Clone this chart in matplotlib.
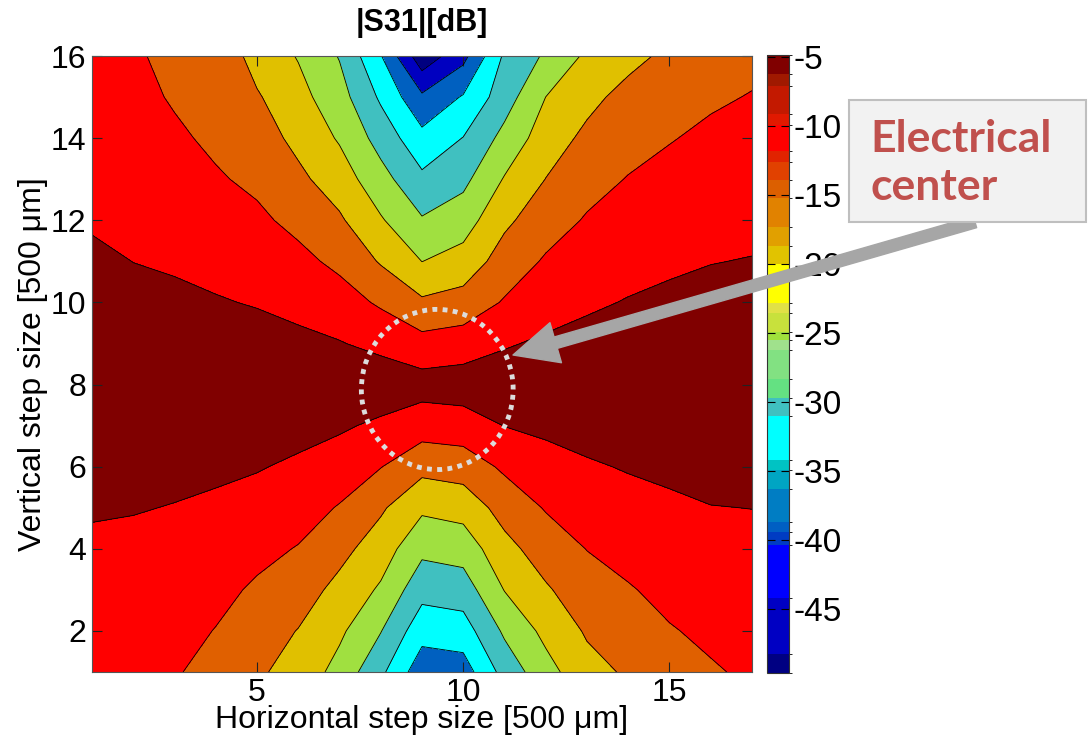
import numpy as np
import matplotlib
matplotlib.use('Agg')
import matplotlib.pyplot as plt
import matplotlib.cm as cm
from matplotlib.colors import ListedColormap, BoundaryNorm
from matplotlib.patches import Ellipse, FancyArrowPatch, Rectangle

plt.rcParams['font.family'] = ['Liberation Sans', 'DejaVu Sans']
plt.rcParams['axes.unicode_minus'] = False

# measurement grid, one step = 500 um
x_steps = np.arange(1, 18)
y_steps = np.arange(1, 17)

# |S31| [dB], one list per horizontal step (x = 1..17), values for y = 1..16
s31_db_columns = [
    [-7.7, -7.0, -6.2, -5.45, -4.75, -4.1, -3.6, -3.4, -3.5, -3.85, -4.55, -5.25, -5.9, -6.6, -7.3, -8.0],
    [-8.4, -7.4, -6.5, -5.65, -4.85, -4.2, -3.8, -3.6, -3.7, -4.4, -5.02, -5.9, -6.8, -7.7, -8.6, -9.5],
    [-9.5, -8.4, -7.3, -6.2, -5.1, -4.3, -3.8, -3.5, -3.6, -4.2, -5.47, -6.72, -7.97, -9.22, -10.47, -11.0],
    [-11.9, -10.16, -8.68, -7.2, -5.71, -4.23, -3.7, -3.4, -3.6, -4.7, -6.2, -7.85, -9.5, -10.9, -11.1, -11.3],
    [-14.3, -12.7, -10.7, -8.7, -6.7, -4.7, -3.8, -3.3, -3.4, -5.27, -7.2, -9.1, -10.95, -12.7, -14.5, -16.9],
    [-16.8, -15.17, -12.7, -10.25, -7.98, -5.74, -3.5, -3.3, -3.92, -6.32, -8.73, -11.26, -13.93, -16.28, -18.4, -20.3],
    [-21.73, -19.07, -16.41, -13.5, -10.32, -7.32, -4.35, -3.5, -4.75, -7.91, -11.09, -14.3, -17.48, -20.52, -23.0, -25.3],
    [-28.9, -24.8, -20.7, -17.5, -14.29, -9.84, -5.87, -2.0, -6.29, -10.68, -15.45, -19.5, -23.19, -26.92, -30.78, -34.7],
    [-38.1, -33.1, -28.3, -23.8, -19.1, -13.5, -7.7, -3.0, -8.3, -14.2, -20.05, -24.55, -28.95, -33.5, -39.1, -48.3],
    [-37.4, -32.3, -27.48, -22.89, -18.09, -12.65, -7.28, -2.5, -7.57, -13.0, -18.03, -22.34, -26.26, -29.86, -34.57, -41.5],
    [-28.2, -24.17, -19.84, -16.57, -13.04, -9.19, -4.9, -2.7, -5.4, -9.57, -12.76, -16.01, -19.64, -23.49, -27.3, -29.2],
    [-21.8, -18.7, -15.59, -12.6, -9.66, -6.84, -4.01, -3.0, -4.36, -6.91, -9.46, -12.17, -14.92, -17.46, -19.98, -24.3],
    [-16.7, -14.43, -12.16, -9.89, -7.7, -5.5, -3.33, -3.0, -3.66, -5.63, -7.6, -9.57, -11.71, -13.9, -16.37, -19.1],
    [-14.34, -12.36, -10.36, -8.45, -6.57, -4.68, -3.7, -3.3, -3.8, -4.77, -6.44, -8.11, -9.78, -11.78, -13.4, -16.5],
    [-11.85, -10.31, -8.77, -7.23, -5.69, -4.2, -3.6, -3.3, -3.6, -4.17, -5.68, -7.18, -8.69, -10.24, -12.07, -13.9],
    [-10.46, -9.12, -7.78, -6.43, -5.09, -3.75, -3.4, -3.2, -3.3, -3.77, -5.11, -6.45, -7.79, -9.12, -10.63, -12.5],
    [-9.28, -8.2, -7.12, -6.04, -4.96, -4.3, -3.8, -3.5, -3.6, -4.1, -4.84, -6.07, -7.3, -8.54, -9.78, -11.2],
]

# contour levels and the fill colour of each band (lowest band first)
fill_levels = [-50, -45, -40, -35, -30, -25, -20, -15, -10, -5, 0]
line_levels = [-45, -40, -35, -30, -25, -20, -15, -10, -5]
fill_colors = ['#000080', '#0000c0', '#0060c0', '#00ffff', '#40c0c0',
               '#a0e040', '#e0c000', '#e06000', '#ff0000', '#800000']

# colorbar: quantized jet as it shows in the picture
cbar_bounds = [-49.6, -48.2, -44.2, -40.3, -39.4, -38.7, -36.3, -34.9, -34.2, -31.0,
               -29.7, -28.3, -26.2, -25.5, -24.9, -23.5, -22.8, -20.0, -18.7, -17.3,
               -15.2, -13.9, -12.6, -11.8, -9.9, -9.1, -7.06, -6.2, -4.85]
cbar_rgb = [(0, 0, 130), (0, 0, 195), (0, 0, 255), (0, 60, 195), (0, 95, 195),
            (0, 125, 195), (0, 165, 195), (0, 195, 195), (0, 255, 255), (64, 192, 192),
            (100, 225, 130), (130, 225, 130), (160, 225, 140), (160, 225, 60), (200, 225, 60),
            (225, 225, 70), (255, 255, 0), (225, 195, 0), (225, 160, 0), (225, 130, 0),
            (220, 95, 0), (225, 65, 0), (225, 35, 0), (255, 0, 0), (225, 25, 0),
            (195, 25, 0), (160, 25, 0), (128, 0, 0)]
cbar_ticks = [-45, -40, -35, -30, -25, -20, -15, -10, -5]


def plot_s31():
    z = np.array(s31_db_columns).T

    fig = plt.figure(figsize=(10.89, 7.40), dpi=100)
    ax = fig.add_axes([0.0845, 0.0919, 0.606, 0.8324])

    ax.contourf(x_steps, y_steps, z, levels=fill_levels, colors=fill_colors)
    ax.contour(x_steps, y_steps, z, levels=line_levels, colors='k',
               linewidths=0.6, linestyles='solid')

    ax.set_xlim(1, 17)
    ax.set_ylim(1, 16)
    ax.set_xticks([5, 10, 15])
    ax.set_yticks(range(2, 17, 2))
    ax.tick_params(direction='in', top=True, right=True, length=7, width=0.8,
                   labelsize=23, pad=4, color='#222222')
    for sp in ax.spines.values():
        sp.set_color('#555555')
        sp.set_linewidth(0.8)

    ax.set_xlabel('Horizontal step size [500 \u03bcm]', fontsize=23, labelpad=-2)
    ax.set_ylabel('Vertical step size [500 \u03bcm]', fontsize=23, labelpad=2)
    ax.set_title('|S31|[dB]', fontsize=22, fontweight='bold', pad=18)

    # colorbar
    cmap = ListedColormap(np.array(cbar_rgb) / 255.0)
    norm = BoundaryNorm(cbar_bounds, cmap.N)
    sm = cm.ScalarMappable(norm=norm, cmap=cmap)
    cax = fig.add_axes([0.7043, 0.0905, 0.0202, 0.8352])
    cb = fig.colorbar(sm, cax=cax, spacing='proportional', ticks=cbar_ticks)
    cb.ax.tick_params(direction='in', left=True, right=True, length=6, width=0.8,
                      labelsize=24, pad=3)
    cb.outline.set_edgecolor('#333333')
    cb.outline.set_linewidth(0.8)

    # dotted circle around the electrical center
    ring = Ellipse((9.37, 7.88), 3.68, 3.9, fill=False, edgecolor='#dcdcdc',
                   linewidth=3.5, linestyle=(0, (1, 1.1)), zorder=5, clip_on=False)
    ax.add_patch(ring)

    # callout arrow and box
    arrow = FancyArrowPatch((975 / 1089, 518 / 740), (513 / 1089, 385 / 740),
                            transform=fig.transFigure,
                            arrowstyle='simple,head_length=32,head_width=30,tail_width=8.5',
                            mutation_scale=1, shrinkA=0, shrinkB=0,
                            color='#a6a6a6', zorder=10)
    fig.add_artist(arrow)

    box = Rectangle((849 / 1089, 518 / 740), 237 / 1089, 122 / 740,
                    transform=fig.transFigure, facecolor='#f2f2f2',
                    edgecolor='#bfbfbf', linewidth=1.5, zorder=11)
    fig.add_artist(box)
    fig.text(870 / 1089, (740 - 152) / 740, 'Electrical', color='#c0504d',
             fontsize=32, fontweight='bold', family=['Lato', 'DejaVu Sans'],
             va='baseline', ha='left', zorder=12)
    fig.text(870 / 1089, (740 - 200) / 740, 'center', color='#c0504d',
             fontsize=32, fontweight='bold', family=['Lato', 'DejaVu Sans'],
             va='baseline', ha='left', zorder=12)

    fig.savefig('out.png', dpi=100)


if __name__ == "__main__":
    plot_s31()
